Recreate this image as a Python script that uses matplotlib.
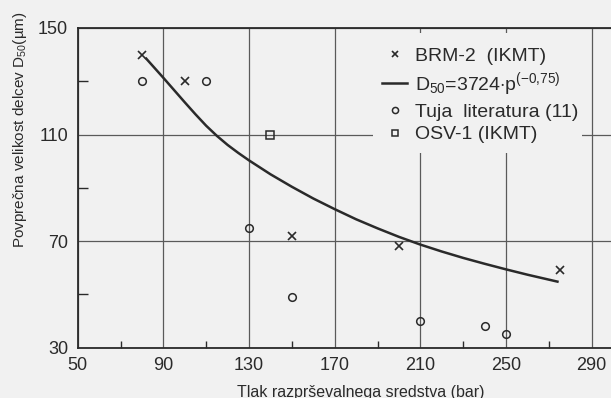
import matplotlib
matplotlib.use("Agg")
import matplotlib.pyplot as plt
from matplotlib.patches import Rectangle

# data
brm_p = [80, 100, 150, 200, 275]
brm_d = [140, 130, 72, 68, 59]

tuja_p = [80, 110, 130, 150, 210, 240, 250]
tuja_d = [130, 130, 75, 49, 40, 38, 35]

osv_p = [140]
osv_d = [110]

# fitted curve D50 = 3724 p^-0.75
fit_p = [82, 90, 95, 100, 105, 110, 115, 120, 125, 130, 140, 150, 160, 170, 180,
         190, 200, 210, 220, 230, 240, 250, 260, 274]
fit_d = [138.5, 131.3, 126.7, 122.1, 117.6, 113.3, 109.5, 106.1, 103.1, 100.3, 95.1,
         90.4, 86.0, 82.0, 78.2, 74.8, 71.6, 68.7, 66.1, 63.7, 61.5, 59.4, 57.4, 54.8]

xticks = [50, 90, 130, 170, 210, 250, 290]
xminor = [70, 110, 150, 190, 230, 270]
yticks = [30, 70, 110, 150]
yminor = [50, 90, 130]

bg = "#f1f1f1"
ink = "#2a2a2a"

plt.rcParams["font.family"] = ["Liberation Sans", "DejaVu Sans"]
plt.rcParams["mathtext.fontset"] = "custom"
plt.rcParams["mathtext.rm"] = "Liberation Sans"
plt.rcParams["mathtext.it"] = "Liberation Sans"
plt.rcParams["text.color"] = ink

W, H = 611, 398
fig = plt.figure(figsize=(W / 100, H / 100), dpi=100, facecolor=bg)
ax = fig.add_axes([77.7 / W, 1 - 347.7 / H, 1 - 77.7 / W, (347.7 - 28) / H], facecolor=bg)

ax.set_xlim(50, 299)
ax.set_ylim(30, 150)
ax.set_xticks(xticks)
ax.set_xticks(xminor, minor=True)
ax.set_yticks(yticks)
ax.set_yticks(yminor, minor=True)

ax.grid(True, which="major", color="#5a5a5a", linewidth=0.9)
ax.tick_params(which="major", length=0, labelsize=13, colors=ink, pad=7)
ax.tick_params(axis="x", which="minor", direction="in", length=5, width=1, color=ink)
ax.tick_params(axis="y", which="minor", direction="in", length=7, width=1, color=ink)

for side in ["left", "bottom", "top"]:
    ax.spines[side].set_color(ink)
    ax.spines[side].set_linewidth(1.3)
ax.spines["right"].set_visible(False)

ax.plot(brm_p, brm_d, linestyle="none", marker="x", markersize=6, mew=1.2,
        color=ink, label="BRM-2  (IKMT)")
ax.plot(fit_p, fit_d, color=ink, linewidth=1.8,
        label=r"D$_{50}$=3724$\cdot$p$^{(-0{,}75)}$")
ax.plot(tuja_p, tuja_d, linestyle="none", marker="o", markersize=5.5, mew=1.1,
        mfc="none", color=ink, label="Tuja  literatura (11)")
ax.plot(osv_p, osv_d, linestyle="none", marker="s", markersize=5.5, mew=1.1,
        mfc="none", color=ink, label="OSV-1 (IKMT)")

# blank area behind the legend hides the grid there
ax.add_patch(Rectangle((373 / W, 1 - 153 / H), 209 / W, 120 / H, transform=fig.transFigure,
                       facecolor=bg, edgecolor="none", zorder=1.8, clip_on=False))

leg = ax.legend(loc="upper left", bbox_to_anchor=(382 / W, 1 - 47 / H),
                bbox_transform=fig.transFigure, borderaxespad=0, borderpad=0,
                frameon=False, fontsize=14, handlelength=1.3,
                handletextpad=0.4, labelspacing=0.27, markerscale=0.8)

fig.text(20 / W, 1 - 130 / H, "Povprečna velikost delcev D$_{50}$(µm)", rotation=90,
         ha="center", va="center", fontsize=11)
fig.text(361 / W, 1 - 392 / H, "Tlak razprševalnega sredstva (bar)",
         ha="center", va="center", fontsize=11.5)

fig.savefig("out.png", dpi=100, facecolor=bg)
